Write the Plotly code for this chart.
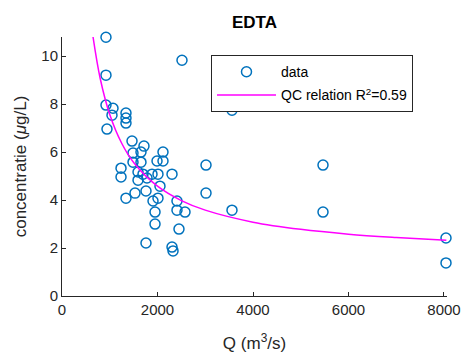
import plotly.graph_objects as go

# Data
q_data = [921, 921, 2513, 3560, 921, 1068, 1047, 1340, 1340, 1340, 942, 1466, 1717,
          1487, 1654, 2115, 1990, 2115, 1487, 1654, 1236, 1236, 1592, 1696, 1885,
          2010, 2304, 1592, 1780, 2052, 1759, 1529, 1340, 1906, 2010, 2408, 2408,
          2576, 1948, 1948, 2450, 1759, 2304, 2325, 3016, 3016, 3560, 5466, 5466,
          8042, 8042]
c_data = [10.79, 9.21, 9.83, 7.75, 7.96, 7.83, 7.54, 7.63, 7.42, 7.21, 6.96, 6.46, 6.25,
          5.96, 6.0, 6.0, 5.63, 5.63, 5.58, 5.58, 5.33, 4.96, 5.17, 5.08, 5.08,
          5.08, 5.08, 4.83, 4.92, 4.58, 4.38, 4.29, 4.08, 3.96, 4.08, 3.96, 3.58,
          3.5, 3.5, 3.0, 2.79, 2.21, 2.04, 1.88, 5.46, 4.29, 3.58, 5.46, 3.5,
          2.42, 1.38]

# QC relation curve
q_curve = [650, 800, 1000, 1250, 1500, 2000, 2500, 3000, 4000, 5000, 6000, 7000, 8050]
c_curve = [10.8, 9.07, 7.57, 6.37, 5.57, 4.58, 3.98, 3.58, 3.08, 2.78, 2.58, 2.44, 2.32]

x_ticks = [0, 2000, 4000, 6000, 8000]
y_ticks = [0, 2, 4, 6, 8, 10]

FONT = "Liberation Sans, Arial, sans-serif"
AX = "#262626"

fig = go.Figure()
fig.add_trace(go.Scatter(
    x=q_data, y=c_data, mode="markers", name="data", legendgroup="a",
    cliponaxis=False,
    marker=dict(symbol="circle-open", size=10, color="#0072BD", line=dict(width=1.5)),
))
fig.add_trace(go.Scatter(
    x=q_curve, y=c_curve, mode="lines", line_shape="spline", legendgroup="b",
    name="QC relation R<sup>2</sup>=0.59",
    line=dict(color="#FF00FF", width=1.5),
))

fig.update_layout(
    width=468, height=358,
    margin=dict(l=62, r=21, t=37, b=62),
    paper_bgcolor="white", plot_bgcolor="white",
    font=dict(family=FONT, size=15, color=AX),
    title=dict(text="<b>EDTA</b>", x=(62 + 447) / 2 / 468, xanchor="center",
               y=1 - 22 / 358, yanchor="middle",
               font=dict(family=FONT, size=17, color="black")),
    legend=dict(x=0.387, y=0.93, xanchor="left", yanchor="top",
                bordercolor=AX, borderwidth=1, bgcolor="white",
                font=dict(family=FONT, size=14, color="black"),
                itemwidth=59, tracegroupgap=2),
    showlegend=True,
)
fig.update_xaxes(
    range=[0, 8063], tickvals=x_ticks, ticktext=[str(v) for v in x_ticks],
    showline=True, linecolor=AX, linewidth=1, mirror=False, automargin=False,
    ticks="inside", ticklen=4, tickcolor=AX, showgrid=False, zeroline=False,
    tickfont=dict(size=15, color=AX),
    title=dict(text="Q (m<sup>3</sup>/s)", font=dict(size=17, color=AX), standoff=20),
)
fig.update_yaxes(
    range=[0, 10.8], tickvals=y_ticks, ticktext=[str(v) for v in y_ticks],
    showline=True, linecolor=AX, linewidth=1, mirror=False, automargin=False,
    ticks="inside", ticklen=4, tickcolor=AX, showgrid=False, zeroline=False,
    tickfont=dict(size=15, color=AX),
    title=dict(text="concentratie (<i>μ</i>g/L)", font=dict(size=17, color=AX), standoff=10),
)

fig.write_html("out.html")
